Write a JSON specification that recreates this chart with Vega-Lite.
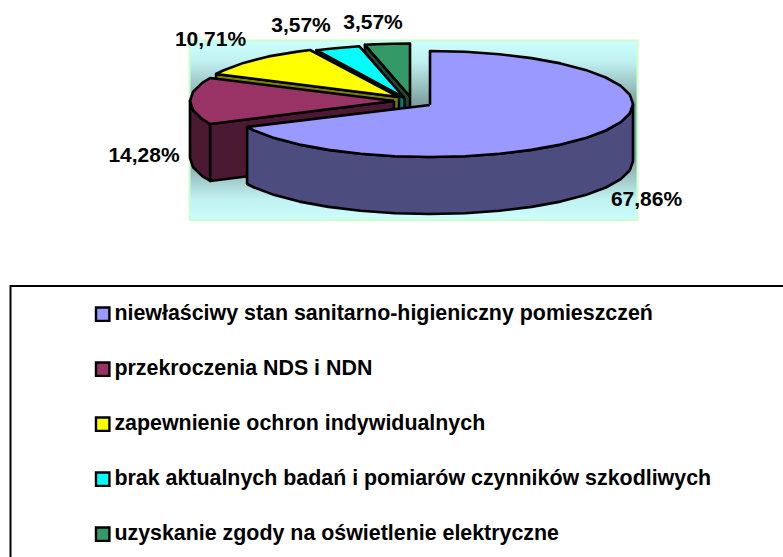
{"$schema":"https://vega.github.io/schema/vega-lite/v6.json","width":783,"height":557,"padding":0,"autosize":{"type":"none"},"background":"white","config":{"view":{"stroke":null}},
"datasets":{
"panel":[{"x":189.5,"x2":637.5,"y":40.5,"y2":220}],
"box":[{"i":0,"x":790,"y":286},{"i":1,"x":10.5,"y":286},{"i":2,"x":10.5,"y":565}],
"labels":[{"label":"67,86%","x":646.5,"y":200},{"label":"14,28%","x":144,"y":156},{"label":"10,71%","x":210.5,"y":40},{"label":"3,57%","x":301,"y":26},{"label":"3,57%","x":373,"y":23}],
"pie":[
{"face":"g","part":"gc","i":0,"x":410,"y":96.5},{"face":"g","part":"gc","i":1,"x":364.9,"y":44.8},{"face":"g","part":"gc","i":2,"x":364.9,"y":101.8},{"face":"g","part":"gc","i":3,"x":410,"y":153.5},{"face":"g","part":"gc","i":4,"x":410,"y":96.5},
{"face":"uzyskanie zgody na oświetlenie elektryczne","part":"gt","i":0,"x":410,"y":96.5},{"face":"uzyskanie zgody na oświetlenie elektryczne","part":"gt","i":1,"x":364.9,"y":44.8},{"face":"uzyskanie zgody na oświetlenie elektryczne","part":"gt","i":2,"x":374.8,"y":44.3},{"face":"uzyskanie zgody na oświetlenie elektryczne","part":"gt","i":3,"x":392.3,"y":43.7},{"face":"uzyskanie zgody na oświetlenie elektryczne","part":"gt","i":4,"x":410,"y":43.5},{"face":"uzyskanie zgody na oświetlenie elektryczne","part":"gt","i":5,"x":410,"y":96.5},
{"face":"c","part":"cc","i":0,"x":404.5,"y":98},{"face":"c","part":"cc","i":1,"x":316.5,"y":50.2},{"face":"c","part":"cc","i":2,"x":316.5,"y":107.2},{"face":"c","part":"cc","i":3,"x":404.5,"y":155},{"face":"c","part":"cc","i":4,"x":404.5,"y":98},
{"face":"brak aktualnych badań i pomiarów czynników szkodliwych","part":"ct","i":0,"x":404.5,"y":98},{"face":"brak aktualnych badań i pomiarów czynników szkodliwych","part":"ct","i":1,"x":316.5,"y":50.2},{"face":"brak aktualnych badań i pomiarów czynników szkodliwych","part":"ct","i":2,"x":335.1,"y":48.2},{"face":"brak aktualnych badań i pomiarów czynników szkodliwych","part":"ct","i":3,"x":359.4,"y":46.3},{"face":"brak aktualnych badań i pomiarów czynników szkodliwych","part":"ct","i":4,"x":404.5,"y":98},
{"face":"y","part":"yc","i":0,"x":399,"y":97},{"face":"y","part":"yc","i":1,"x":216.1,"y":74},{"face":"y","part":"yc","i":2,"x":216.1,"y":131},{"face":"y","part":"yc","i":3,"x":399,"y":154},{"face":"y","part":"yc","i":4,"x":399,"y":97},
{"face":"zapewnienie ochron indywidualnych","part":"yt","i":0,"x":399,"y":97},{"face":"zapewnienie ochron indywidualnych","part":"yt","i":1,"x":216.1,"y":74},{"face":"zapewnienie ochron indywidualnych","part":"yt","i":2,"x":223.2,"y":70.5},{"face":"zapewnienie ochron indywidualnych","part":"yt","i":3,"x":243.5,"y":62.9},{"face":"zapewnienie ochron indywidualnych","part":"yt","i":4,"x":268.5,"y":56.4},{"face":"zapewnienie ochron indywidualnych","part":"yt","i":5,"x":297.5,"y":51.6},{"face":"zapewnienie ochron indywidualnych","part":"yt","i":6,"x":310,"y":50},{"face":"zapewnienie ochron indywidualnych","part":"yt","i":7,"x":399,"y":97},
{"face":"m","part":"mw","i":0,"x":210.2,"y":124},{"face":"m","part":"mw","i":1,"x":202.3,"y":119.1},{"face":"m","part":"mw","i":2,"x":193.1,"y":110.2},{"face":"m","part":"mw","i":3,"x":190,"y":101},{"face":"m","part":"mw","i":4,"x":190,"y":158},{"face":"m","part":"mw","i":5,"x":193.1,"y":167.2},{"face":"m","part":"mw","i":6,"x":202.3,"y":176.1},{"face":"m","part":"mw","i":7,"x":210.2,"y":181},{"face":"m","part":"mw","i":8,"x":210.2,"y":124},
{"face":"m","part":"mc","i":0,"x":394,"y":101},{"face":"m","part":"mc","i":1,"x":210.2,"y":124},{"face":"m","part":"mc","i":2,"x":210.2,"y":181},{"face":"m","part":"mc","i":3,"x":394,"y":158},{"face":"m","part":"mc","i":4,"x":394,"y":101},
{"face":"przekroczenia NDS i NDN","part":"mt","i":0,"x":394,"y":101},{"face":"przekroczenia NDS i NDN","part":"mt","i":1,"x":210.2,"y":124},{"face":"przekroczenia NDS i NDN","part":"mt","i":2,"x":202.3,"y":119.1},{"face":"przekroczenia NDS i NDN","part":"mt","i":3,"x":193.1,"y":110.2},{"face":"przekroczenia NDS i NDN","part":"mt","i":4,"x":190,"y":101},{"face":"przekroczenia NDS i NDN","part":"mt","i":5,"x":193.1,"y":91.8},{"face":"przekroczenia NDS i NDN","part":"mt","i":6,"x":202.3,"y":82.9},{"face":"przekroczenia NDS i NDN","part":"mt","i":7,"x":210.2,"y":78},{"face":"przekroczenia NDS i NDN","part":"mt","i":8,"x":394,"y":101},
{"face":"p","part":"pw","i":0,"x":633,"y":104},{"face":"p","part":"pw","i":1,"x":629.9,"y":113.2},{"face":"p","part":"pw","i":2,"x":620.8,"y":122.1},{"face":"p","part":"pw","i":3,"x":605.8,"y":130.5},{"face":"p","part":"pw","i":4,"x":585.5,"y":138.1},{"face":"p","part":"pw","i":5,"x":560.5,"y":144.6},{"face":"p","part":"pw","i":6,"x":531.5,"y":149.9},{"face":"p","part":"pw","i":7,"x":499.4,"y":153.8},{"face":"p","part":"pw","i":8,"x":465.2,"y":156.2},{"face":"p","part":"pw","i":9,"x":430,"y":157},{"face":"p","part":"pw","i":10,"x":394.8,"y":156.2},{"face":"p","part":"pw","i":11,"x":360.6,"y":153.8},{"face":"p","part":"pw","i":12,"x":328.5,"y":149.9},{"face":"p","part":"pw","i":13,"x":299.5,"y":144.6},{"face":"p","part":"pw","i":14,"x":274.5,"y":138.1},{"face":"p","part":"pw","i":15,"x":254.2,"y":130.5},{"face":"p","part":"pw","i":16,"x":247.1,"y":127},{"face":"p","part":"pw","i":17,"x":247.1,"y":184},{"face":"p","part":"pw","i":18,"x":254.2,"y":187.5},{"face":"p","part":"pw","i":19,"x":274.5,"y":195.1},{"face":"p","part":"pw","i":20,"x":299.5,"y":201.6},{"face":"p","part":"pw","i":21,"x":328.5,"y":206.9},{"face":"p","part":"pw","i":22,"x":360.6,"y":210.8},{"face":"p","part":"pw","i":23,"x":394.8,"y":213.2},{"face":"p","part":"pw","i":24,"x":430,"y":214},{"face":"p","part":"pw","i":25,"x":465.2,"y":213.2},{"face":"p","part":"pw","i":26,"x":499.4,"y":210.8},{"face":"p","part":"pw","i":27,"x":531.5,"y":206.9},{"face":"p","part":"pw","i":28,"x":560.5,"y":201.6},{"face":"p","part":"pw","i":29,"x":585.5,"y":195.1},{"face":"p","part":"pw","i":30,"x":605.8,"y":187.5},{"face":"p","part":"pw","i":31,"x":620.8,"y":179.1},{"face":"p","part":"pw","i":32,"x":629.9,"y":170.2},{"face":"p","part":"pw","i":33,"x":633,"y":161},{"face":"p","part":"pw","i":34,"x":633,"y":104},
{"face":"niewłaściwy stan sanitarno-higieniczny pomieszczeń","part":"pt","i":0,"x":430,"y":105},{"face":"niewłaściwy stan sanitarno-higieniczny pomieszczeń","part":"pt","i":1,"x":430,"y":51},{"face":"niewłaściwy stan sanitarno-higieniczny pomieszczeń","part":"pt","i":2,"x":465.2,"y":51.8},{"face":"niewłaściwy stan sanitarno-higieniczny pomieszczeń","part":"pt","i":3,"x":499.4,"y":54.2},{"face":"niewłaściwy stan sanitarno-higieniczny pomieszczeń","part":"pt","i":4,"x":531.5,"y":58.1},{"face":"niewłaściwy stan sanitarno-higieniczny pomieszczeń","part":"pt","i":5,"x":560.5,"y":63.4},{"face":"niewłaściwy stan sanitarno-higieniczny pomieszczeń","part":"pt","i":6,"x":585.5,"y":69.9},{"face":"niewłaściwy stan sanitarno-higieniczny pomieszczeń","part":"pt","i":7,"x":605.8,"y":77.5},{"face":"niewłaściwy stan sanitarno-higieniczny pomieszczeń","part":"pt","i":8,"x":620.8,"y":85.9},{"face":"niewłaściwy stan sanitarno-higieniczny pomieszczeń","part":"pt","i":9,"x":629.9,"y":94.8},{"face":"niewłaściwy stan sanitarno-higieniczny pomieszczeń","part":"pt","i":10,"x":633,"y":104},{"face":"niewłaściwy stan sanitarno-higieniczny pomieszczeń","part":"pt","i":11,"x":629.9,"y":113.2},{"face":"niewłaściwy stan sanitarno-higieniczny pomieszczeń","part":"pt","i":12,"x":620.8,"y":122.1},{"face":"niewłaściwy stan sanitarno-higieniczny pomieszczeń","part":"pt","i":13,"x":605.8,"y":130.5},{"face":"niewłaściwy stan sanitarno-higieniczny pomieszczeń","part":"pt","i":14,"x":585.5,"y":138.1},{"face":"niewłaściwy stan sanitarno-higieniczny pomieszczeń","part":"pt","i":15,"x":560.5,"y":144.6},{"face":"niewłaściwy stan sanitarno-higieniczny pomieszczeń","part":"pt","i":16,"x":531.5,"y":149.9},{"face":"niewłaściwy stan sanitarno-higieniczny pomieszczeń","part":"pt","i":17,"x":499.4,"y":153.8},{"face":"niewłaściwy stan sanitarno-higieniczny pomieszczeń","part":"pt","i":18,"x":465.2,"y":156.2},{"face":"niewłaściwy stan sanitarno-higieniczny pomieszczeń","part":"pt","i":19,"x":430,"y":157},{"face":"niewłaściwy stan sanitarno-higieniczny pomieszczeń","part":"pt","i":20,"x":394.8,"y":156.2},{"face":"niewłaściwy stan sanitarno-higieniczny pomieszczeń","part":"pt","i":21,"x":360.6,"y":153.8},{"face":"niewłaściwy stan sanitarno-higieniczny pomieszczeń","part":"pt","i":22,"x":328.5,"y":149.9},{"face":"niewłaściwy stan sanitarno-higieniczny pomieszczeń","part":"pt","i":23,"x":299.5,"y":144.6},{"face":"niewłaściwy stan sanitarno-higieniczny pomieszczeń","part":"pt","i":24,"x":274.5,"y":138.1},{"face":"niewłaściwy stan sanitarno-higieniczny pomieszczeń","part":"pt","i":25,"x":254.2,"y":130.5},{"face":"niewłaściwy stan sanitarno-higieniczny pomieszczeń","part":"pt","i":26,"x":247.1,"y":127},{"face":"niewłaściwy stan sanitarno-higieniczny pomieszczeń","part":"pt","i":27,"x":430,"y":105}
]},
"layer":[
{"data":{"name":"panel"},"mark":{"type":"rect","stroke":"#ccffcc","strokeWidth":2,"fill":{"gradient":"linear","x1":0,"y1":0,"x2":0,"y2":1,"stops":[{"offset":0,"color":"#ccffff"},{"offset":0.12,"color":"#c0f0f0"},{"offset":0.35,"color":"#7fa0a0"},{"offset":0.65,"color":"#7fa0a0"},{"offset":0.88,"color":"#c0f0f0"},{"offset":1,"color":"#ccffff"}]}},
"encoding":{"x":{"field":"x","type":"quantitative","scale":{"domain":[0,783]},"axis":null},"x2":{"field":"x2"},"y":{"field":"y","type":"quantitative","scale":{"domain":[557,0]},"axis":null},"y2":{"field":"y2"}}},
{"data":{"name":"pie"},"mark":{"type":"line","stroke":"black","strokeWidth":2.6,"strokeJoin":"round","interpolate":"linear"},
"encoding":{"x":{"field":"x","type":"quantitative","scale":{"domain":[0,783]},"axis":null},"y":{"field":"y","type":"quantitative","scale":{"domain":[557,0]},"axis":null},"order":{"field":"i","type":"quantitative"},"detail":{"field":"part"},
"fill":{"field":"face","type":"nominal","scale":{"domain":["niewłaściwy stan sanitarno-higieniczny pomieszczeń","przekroczenia NDS i NDN","zapewnienie ochron indywidualnych","brak aktualnych badań i pomiarów czynników szkodliwych","uzyskanie zgody na oświetlenie elektryczne","p","m","y","c","g"],"range":["#9999ff","#993366","#ffff00","#00ffff","#339966","#4c4c7f","#4c1933","#7f7f00","#007f7f","#194c33"]},
"legend":{"title":null,"orient":"none","legendX":92,"legendY":303.5,"values":["niewłaściwy stan sanitarno-higieniczny pomieszczeń","przekroczenia NDS i NDN","zapewnienie ochron indywidualnych","brak aktualnych badań i pomiarów czynników szkodliwych","uzyskanie zgody na oświetlenie elektryczne"],"symbolType":"square","symbolSize":180,"symbolStrokeColor":"black","symbolStrokeWidth":2.4,"symbolOpacity":1,"labelFont":"Liberation Sans","labelFontWeight":"bold","labelFontSize":21.4,"labelColor":"black","labelLimit":700,"labelOffset":1,"rowPadding":31,"padding":0}}}},
{"data":{"name":"labels"},"mark":{"type":"text","font":"Liberation Sans","fontWeight":"bold","fontSize":21,"color":"black","align":"center","baseline":"middle"},
"encoding":{"x":{"field":"x","type":"quantitative","scale":{"domain":[0,783]},"axis":null},"y":{"field":"y","type":"quantitative","scale":{"domain":[557,0]},"axis":null},"text":{"field":"label"}}},
{"data":{"name":"box"},"mark":{"type":"line","stroke":"black","strokeWidth":2},
"encoding":{"x":{"field":"x","type":"quantitative","scale":{"domain":[0,783]},"axis":null},"y":{"field":"y","type":"quantitative","scale":{"domain":[557,0]},"axis":null},"order":{"field":"i","type":"quantitative"}}}
]}
